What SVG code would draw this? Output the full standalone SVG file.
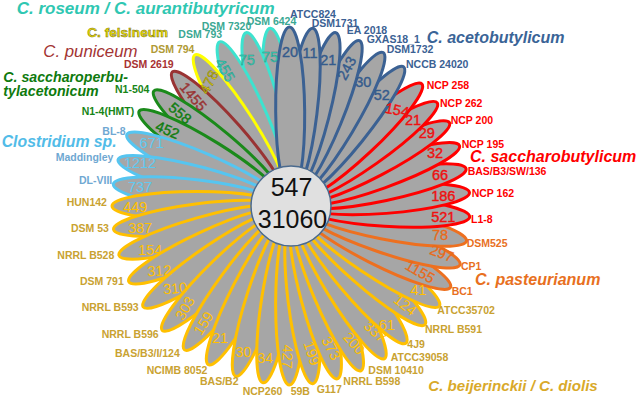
<svg xmlns="http://www.w3.org/2000/svg" width="638" height="396" viewBox="0 0 638 396">
<style>
.pt{fill:#a6a6a6;stroke-width:3}
.lbl{font-family:"Liberation Sans",Arial,sans-serif;font-weight:bold;font-size:10.5px}
.num{font-family:"Liberation Sans",Arial,sans-serif;font-size:14.5px;text-anchor:middle}
.sp{font-family:"Liberation Sans",Arial,sans-serif;font-weight:bold;font-style:italic}
.cy .pt{stroke:#3de3cf}.cy .lbl{fill:#3aa893}.n-cy{fill:#36d2ba;stroke:#2a8f80;stroke-width:.4}
.fe .pt{stroke:#ffff00}.fe .lbl{fill:#b09a35}.n-fe{fill:#f2e400;stroke:#77701a;stroke-width:.5}
.br .pt{stroke:#993333}.br .lbl{fill:#a83232}.n-br{fill:#993333;stroke:#993333;stroke-width:.4}
.gr .pt{stroke:#1a8a1a}.gr .lbl{fill:#178517}.n-gr{fill:#0f7d0f;stroke:#0f7d0f;stroke-width:.4}
.lb .pt{stroke:#56c5f0}.lb .lbl{fill:#6fa8d2}.n-lb{fill:#5ecaf2}
.ye .pt{stroke:#ffc000}.ye .lbl{fill:#c9a231}.n-ye{fill:#ffc000}
.or .pt{stroke:#ed7020}.or .lbl{fill:#e8701e}.n-or{fill:#e86a1a;stroke:#e86a1a;stroke-width:.3}
.rd .pt{stroke:#ff0000}.rd .lbl{fill:#ff0000}.n-rd{fill:#ee1111;stroke:#ee1111;stroke-width:.4}
.bl .pt{stroke:#3b6193}.bl .lbl{fill:#3b6193}.n-bl{fill:#355b8c;stroke:#355b8c;stroke-width:.4}
</style>
<rect width="638" height="396" fill="#ffffff"/>

<g id="petals">
<g id="DSM6424" class="cy"><ellipse class="pt" transform="rotate(353.3 291 206)" cx="291" cy="111.5" rx="14.5" ry="84.5"/><text class="lbl" x="246.7" y="24.5">DSM 6424</text></g>
<g id="DSM7320" class="cy"><ellipse class="pt" transform="rotate(345.5 291 206)" cx="291" cy="111.5" rx="14.5" ry="84.5"/><text class="lbl" x="201.7" y="29.8">DSM 7320</text></g>
<g id="DSM793" class="cy"><ellipse class="pt" transform="rotate(336.5 291 206)" cx="291" cy="111.5" rx="14.5" ry="84.5"/><text class="lbl" x="178.3" y="38.1">DSM 793</text></g>
<g id="DSM794" class="fe"><ellipse class="pt" transform="rotate(327.5 291 206)" cx="291" cy="111.5" rx="14.5" ry="84.5"/><text class="lbl" x="150.7" y="53.1">DSM 794</text></g>
<g id="DSM2619" class="br"><ellipse class="pt" transform="rotate(318.5 291 206)" cx="291" cy="111.5" rx="14.5" ry="84.5"/><text class="lbl" x="124" y="67.8">DSM 2619</text></g>
<g id="N1-504" class="gr"><ellipse class="pt" transform="rotate(310 291 206)" cx="291" cy="111.5" rx="14.5" ry="84.5"/><text class="lbl" x="115" y="93.1">N1-504</text></g>
<g id="N1-4HMT" class="gr"><ellipse class="pt" transform="rotate(302 291 206)" cx="291" cy="111.5" rx="14.5" ry="84.5"/><text class="lbl" x="81.7" y="114.8">N1-4(HMT)</text></g>
<g id="BL-8" class="lb"><ellipse class="pt" transform="rotate(293.5 291 206)" cx="291" cy="111.5" rx="14.5" ry="84.5"/><text class="lbl" x="102.3" y="134.5">BL-8</text></g>
<g id="Maddingley" class="lb"><ellipse class="pt" transform="rotate(285 291 206)" cx="291" cy="111.5" rx="14.5" ry="84.5"/><text class="lbl" x="55.7" y="160.5">Maddingley</text></g>
<g id="DL-VIII" class="lb"><ellipse class="pt" transform="rotate(277 291 206)" cx="291" cy="111.5" rx="14.5" ry="84.5"/><text class="lbl" x="79" y="183.8">DL-VIII</text></g>
<g id="HUN142" class="ye"><ellipse class="pt" transform="rotate(270 291 206)" cx="291" cy="111.5" rx="14.5" ry="84.5"/><text class="lbl" x="66.7" y="205.5">HUN142</text></g>
<g id="DSM53" class="ye"><ellipse class="pt" transform="rotate(262.5 291 206)" cx="291" cy="111.5" rx="14.5" ry="84.5"/><text class="lbl" x="71" y="232">DSM 53</text></g>
<g id="NRRLB528" class="ye"><ellipse class="pt" transform="rotate(254 291 206)" cx="291" cy="111.5" rx="14.5" ry="84.5"/><text class="lbl" x="57.3" y="258.8">NRRL B528</text></g>
<g id="DSM791" class="ye"><ellipse class="pt" transform="rotate(245 291 206)" cx="291" cy="111.5" rx="14.5" ry="84.5"/><text class="lbl" x="80" y="284.8">DSM 791</text></g>
<g id="NRRLB593" class="ye"><ellipse class="pt" transform="rotate(235.7 291 206)" cx="291" cy="111.5" rx="14.5" ry="84.5"/><text class="lbl" x="81.7" y="311">NRRL B593</text></g>
<g id="NRRLB596" class="ye"><ellipse class="pt" transform="rotate(226 291 206)" cx="291" cy="111.5" rx="14.5" ry="84.5"/><text class="lbl" x="101.7" y="337.8">NRRL B596</text></g>
<g id="BASB3I124" class="ye"><ellipse class="pt" transform="rotate(216.5 291 206)" cx="291" cy="111.5" rx="14.5" ry="84.5"/><text class="lbl" x="115" y="356.5">BAS/B3/I/124</text></g>
<g id="NCIMB8052" class="ye"><ellipse class="pt" transform="rotate(207.5 291 206)" cx="291" cy="111.5" rx="14.5" ry="84.5"/><text class="lbl" x="146.7" y="373.8">NCIMB 8052</text></g>
<g id="BASB2" class="ye"><ellipse class="pt" transform="rotate(198 291 206)" cx="291" cy="111.5" rx="14.5" ry="84.5"/><text class="lbl" x="200" y="385.3">BAS/B2</text></g>
<g id="NCP260" class="ye"><ellipse class="pt" transform="rotate(189 291 206)" cx="291" cy="111.5" rx="14.5" ry="84.5"/><text class="lbl" x="242.7" y="394.5">NCP260</text></g>
<g id="59B" class="ye"><ellipse class="pt" transform="rotate(180.5 291 206)" cx="291" cy="111.5" rx="14.5" ry="84.5"/><text class="lbl" x="290.7" y="394.5">59B</text></g>
<g id="G117" class="ye"><ellipse class="pt" transform="rotate(173 291 206)" cx="291" cy="111.5" rx="14.5" ry="84.5"/><text class="lbl" x="316.7" y="392.8">G117</text></g>
<g id="NRRLB598" class="ye"><ellipse class="pt" transform="rotate(165 291 206)" cx="291" cy="111.5" rx="14.5" ry="84.5"/><text class="lbl" x="343.3" y="385">NRRL B598</text></g>
<g id="DSM10410" class="ye"><ellipse class="pt" transform="rotate(157 291 206)" cx="291" cy="111.5" rx="14.5" ry="84.5"/><text class="lbl" x="368.3" y="374.3">DSM 10410</text></g>
<g id="ATCC39058" class="ye"><ellipse class="pt" transform="rotate(148.5 291 206)" cx="291" cy="111.5" rx="14.5" ry="84.5"/><text class="lbl" x="390.7" y="360.8">ATCC39058</text></g>
<g id="4J9" class="ye"><ellipse class="pt" transform="rotate(140 291 206)" cx="291" cy="111.5" rx="14.5" ry="84.5"/><text class="lbl" x="407.3" y="347.8">4J9</text></g>
<g id="NRRLB591" class="ye"><ellipse class="pt" transform="rotate(131.5 291 206)" cx="291" cy="111.5" rx="14.5" ry="84.5"/><text class="lbl" x="425" y="332.8">NRRL B591</text></g>
<g id="ATCC35702" class="ye"><ellipse class="pt" transform="rotate(124 291 206)" cx="291" cy="111.5" rx="14.5" ry="84.5"/><text class="lbl" x="437.3" y="313.8">ATCC35702</text></g>
<g id="BC1" class="or"><ellipse class="pt" transform="rotate(117 291 206)" cx="291" cy="111.5" rx="14.5" ry="84.5"/><text class="lbl" x="451.7" y="294.5">BC1</text></g>
<g id="CP1" class="or"><ellipse class="pt" transform="rotate(109.2 291 206)" cx="291" cy="111.5" rx="14.5" ry="84.5"/><text class="lbl" x="461" y="269.8">CP1</text></g>
<g id="DSM525" class="or"><ellipse class="pt" transform="rotate(101.3 291 206)" cx="291" cy="111.5" rx="14.5" ry="84.5"/><text class="lbl" x="466.7" y="246.5">DSM525</text></g>
<g id="L1-8" class="rd"><ellipse class="pt" transform="rotate(93.5 291 206)" cx="291" cy="111.5" rx="14.5" ry="84.5"/><text class="lbl" x="471" y="222.8">L1-8</text></g>
<g id="NCP162" class="rd"><ellipse class="pt" transform="rotate(85.7 291 206)" cx="291" cy="111.5" rx="14.5" ry="84.5"/><text class="lbl" x="471.7" y="196.5">NCP 162</text></g>
<g id="BASB3SW136" class="rd"><ellipse class="pt" transform="rotate(78 291 206)" cx="291" cy="111.5" rx="14.5" ry="84.5"/><text class="lbl" x="467.7" y="174.5">BAS/B3/SW/136</text></g>
<g id="NCP195" class="rd"><ellipse class="pt" transform="rotate(70.3 291 206)" cx="291" cy="111.5" rx="14.5" ry="84.5"/><text class="lbl" x="461.7" y="148.2">NCP 195</text></g>
<g id="NCP200" class="rd"><ellipse class="pt" transform="rotate(62.3 291 206)" cx="291" cy="111.5" rx="14.5" ry="84.5"/><text class="lbl" x="450.7" y="123.8">NCP 200</text></g>
<g id="NCP262" class="rd"><ellipse class="pt" transform="rotate(54.8 291 206)" cx="291" cy="111.5" rx="14.5" ry="84.5"/><text class="lbl" x="440" y="107.1">NCP 262</text></g>
<g id="NCP258" class="rd"><ellipse class="pt" transform="rotate(47 291 206)" cx="291" cy="111.5" rx="14.5" ry="84.5"/><text class="lbl" x="426.7" y="88.8">NCP 258</text></g>
<g id="NCCB24020" class="bl"><ellipse class="pt" transform="rotate(39 291 206)" cx="291" cy="111.5" rx="14.5" ry="84.5"/><text class="lbl" x="406" y="67.8">NCCB 24020</text></g>
<g id="DSM1732" class="bl"><ellipse class="pt" transform="rotate(31 291 206)" cx="291" cy="111.5" rx="14.5" ry="84.5"/><text class="lbl" x="386.7" y="53.1">DSM1732</text></g>
<g id="GXAS18_1" class="bl"><ellipse class="pt" transform="rotate(22.5 291 206)" cx="291" cy="111.5" rx="14.5" ry="84.5"/><text class="lbl" x="366.7" y="42.8">GXAS18_1</text></g>
<g id="EA2018" class="bl"><ellipse class="pt" transform="rotate(14.5 291 206)" cx="291" cy="111.5" rx="14.5" ry="84.5"/><text class="lbl" x="346.7" y="34">EA 2018</text></g>
<g id="DSM1731" class="bl"><ellipse class="pt" transform="rotate(7 291 206)" cx="291" cy="111.5" rx="14.5" ry="84.5"/><text class="lbl" x="311.7" y="26.5">DSM1731</text></g>
<g id="ATCC824" class="bl"><ellipse class="pt" transform="rotate(-0.5 291 206)" cx="291" cy="111.5" rx="14.5" ry="84.5"/><text class="lbl" x="290" y="17.8">ATCC824</text></g>
</g>

<g id="petal-values">
<text class="num n-cy" transform="translate(225 70) rotate(60)" y="5">455</text>
<text class="num n-cy" transform="translate(246.7 60)" y="5">75</text>
<text class="num n-cy" transform="translate(270 56.7)" y="5">75</text>
<text class="num n-fe" transform="translate(209 82) rotate(-62)" y="5">478</text>
<text class="num n-br" transform="translate(193.3 96.7) rotate(50)" y="5">1455</text>
<text class="num n-gr" transform="translate(180 113.3) rotate(40)" y="5">558</text>
<text class="num n-gr" transform="translate(167.5 130) rotate(22)" y="5">452</text>
<text class="num n-lb" transform="translate(151.7 143.3)" y="5">671</text>
<text class="num n-lb" transform="translate(140 163.3)" y="5">1212</text>
<text class="num n-lb" transform="translate(140 186.7)" y="5">737</text>
<text class="num n-ye" transform="translate(135 207.3)" y="5">449</text>
<text class="num n-ye" transform="translate(140 228.3)" y="5">387</text>
<text class="num n-ye" transform="translate(150 250)" y="5">154</text>
<text class="num n-ye" transform="translate(159.3 270.7) rotate(-3)" y="5">312</text>
<text class="num n-ye" transform="translate(175 288.3) rotate(-5)" y="5">310</text>
<text class="num n-ye" transform="translate(185 308.3) rotate(-60)" y="5">303</text>
<text class="num n-ye" transform="translate(203.3 323.3) rotate(-58)" y="5">159</text>
<text class="num n-ye" transform="translate(220 338.3)" y="5">21</text>
<text class="num n-ye" transform="translate(243.3 351.7)" y="5">30</text>
<text class="num n-ye" transform="translate(265 358.3)" y="5">34</text>
<text class="num n-ye" transform="translate(287.3 356.7) rotate(92)" y="5">427</text>
<text class="num n-ye" transform="translate(311.7 353.3) rotate(72)" y="5">199</text>
<text class="num n-ye" transform="translate(331 348.3) rotate(62)" y="5">373</text>
<text class="num n-ye" transform="translate(354 343.3) rotate(48)" y="5">200</text>
<text class="num n-ye" transform="translate(375 331.7) rotate(42)" y="5">337</text>
<text class="num n-ye" transform="translate(386.7 325)" y="5">61</text>
<text class="num n-ye" transform="translate(405 305) rotate(38)" y="5">124</text>
<text class="num n-ye" transform="translate(418.3 290)" y="5">41</text>
<text class="num n-or" transform="translate(420 271.7) rotate(30)" y="5">1155</text>
<text class="num n-or" transform="translate(441.7 253.3) rotate(20)" y="5">297</text>
<text class="num n-or" transform="translate(440 235)" y="5">78</text>
<text class="num n-rd" transform="translate(443.3 216.7)" y="5">521</text>
<text class="num n-rd" transform="translate(443.3 196)" y="5">186</text>
<text class="num n-rd" transform="translate(440 175)" y="5">66</text>
<text class="num n-rd" transform="translate(435 152.7)" y="5">32</text>
<text class="num n-rd" transform="translate(426.7 133.3)" y="5">29</text>
<text class="num n-rd" transform="translate(413 120)" y="5">21</text>
<text class="num n-rd" transform="translate(397 110) rotate(12)" y="5">154</text>
<text class="num n-bl" transform="translate(381.7 95)" y="5">52</text>
<text class="num n-bl" transform="translate(363.3 81.7)" y="5">30</text>
<text class="num n-bl" transform="translate(346.7 68.3) rotate(-62)" y="5">243</text>
<text class="num n-bl" transform="translate(328.3 60)" y="5">21</text>
<text class="num n-bl" transform="translate(310 53.3)" y="5">11</text>
<text class="num n-bl" transform="translate(290 51.7)" y="5">20</text>
</g>

<g id="center">
<circle cx="291" cy="206" r="40" fill="#e0e0e0" stroke="#4a6a8e" stroke-width="1.5"/>
<text x="291.5" y="195.5" font-family="'Liberation Sans',Arial,sans-serif" font-size="25" text-anchor="middle" fill="#111">547</text>
<text x="292.5" y="228" font-family="'Liberation Sans',Arial,sans-serif" font-size="25" text-anchor="middle" fill="#111">31060</text>
</g>

<g id="species">
<text class="sp" x="16.7" y="13.8" font-size="17" fill="#2fc7b2">C. roseum / C. aurantibutyricum</text>
<text x="87.3" y="37.3" font-family="'Liberation Sans',Arial,sans-serif" font-weight="bold" font-size="13.6" fill="#eee000" stroke="#77701a" stroke-width="0.5">C. felsineum</text>
<text x="43.3" y="56.9" font-family="'Liberation Sans',Arial,sans-serif" font-style="italic" font-size="16.8" fill="#a33434">C. puniceum</text>
<text class="sp" x="3.3" y="82.3" font-size="14.2" fill="#0e7a0e">C. saccharoperbu-</text>
<text class="sp" x="3.3" y="96" font-size="14.2" fill="#0e7a0e">tylacetonicum</text>
<text class="sp" x="1.7" y="147" font-size="15.8" fill="#52bce8">Clostridium sp.</text>
<text class="sp" x="426.7" y="43.3" font-size="16" fill="#3a6497">C. acetobutylicum</text>
<text class="sp" x="470" y="162" font-size="16" fill="#ff0000">C. saccharobutylicum</text>
<text class="sp" x="475" y="285" font-size="16" fill="#e8701e">C. pasteurianum</text>
<text class="sp" x="428.3" y="390.7" font-size="15.1" fill="#d9a92a">C. beijerinckii / C. diolis</text>
</g>
</svg>
